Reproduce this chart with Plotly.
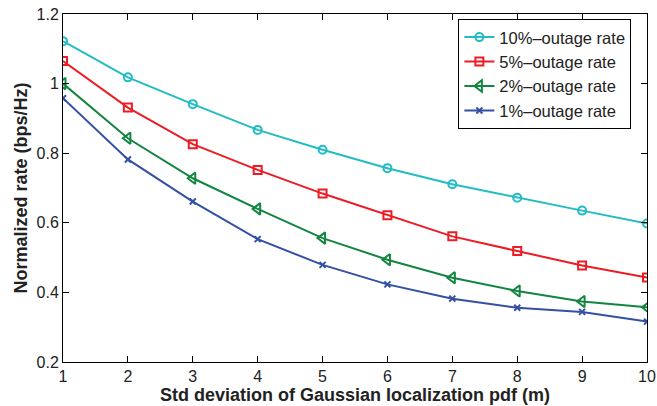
import plotly.graph_objects as go

x = [1, 2, 3, 4, 5, 6, 7, 8, 9, 10]
rate10 = [1.122, 1.018, 0.941, 0.867, 0.810, 0.757, 0.711, 0.672, 0.635, 0.598]
rate5 = [1.065, 0.931, 0.826, 0.752, 0.684, 0.622, 0.561, 0.519, 0.477, 0.443]
rate2 = [1.000, 0.843, 0.728, 0.640, 0.556, 0.494, 0.442, 0.404, 0.374, 0.357]
rate1 = [0.958, 0.782, 0.661, 0.553, 0.479, 0.423, 0.382, 0.356, 0.344, 0.316]
names = ["10%\u2013outage rate", "5%\u2013outage rate", "2%\u2013outage rate", "1%\u2013outage rate"]
colors = ["#22BCC4", "#EC1C24", "#128540", "#3350A3"]
symbols = ["circle-open", "square-open", "triangle-left-open", "x-thin-open"]
sizes = [8, 8, 10, 6]

fig = go.Figure()
for ys, n, c, s, sz in zip([rate10, rate5, rate2, rate1], names, colors, symbols, sizes):
    fig.add_trace(go.Scatter(x=x, y=ys, name=n, mode="lines+markers",
                             line=dict(color=c, width=2),
                             marker=dict(symbol=s, size=sz, color=c, line=dict(color=c, width=2))))

axis_common = dict(showline=True, linecolor="black", linewidth=1, mirror="ticks",
                   ticks="inside", ticklen=6, tickcolor="black", showgrid=False, zeroline=False,
                   ticklabeloverflow="allow", automargin=False,
                   tickfont=dict(family="Liberation Sans, Arial", size=16, color="#222"))
fig.update_xaxes(range=[1, 10], dtick=1, **axis_common,
                 title=dict(text="<b>Std deviation of Gaussian localization pdf (m)</b>",
                            font=dict(family="Liberation Sans, Arial", size=18, color="#222"), standoff=0))
fig.update_yaxes(range=[0.2, 1.2], dtick=0.2, tickformat="~g", **axis_common,
                 title=dict(text="<b>Normalized rate (bps/Hz)</b>",
                            font=dict(family="Liberation Sans, Arial", size=18, color="#222"), standoff=4))
fig.update_layout(width=657, height=406, margin=dict(l=63, r=10, t=14, b=44),
                  plot_bgcolor="white", paper_bgcolor="white",
                  legend=dict(x=0.677, y=0.986, xanchor="left", yanchor="top", bordercolor="black",
                              borderwidth=1, bgcolor="white", tracegroupgap=0,
                              font=dict(family="Liberation Sans, Arial", size=16.5, color="#222")))
fig.write_html("out.html")
